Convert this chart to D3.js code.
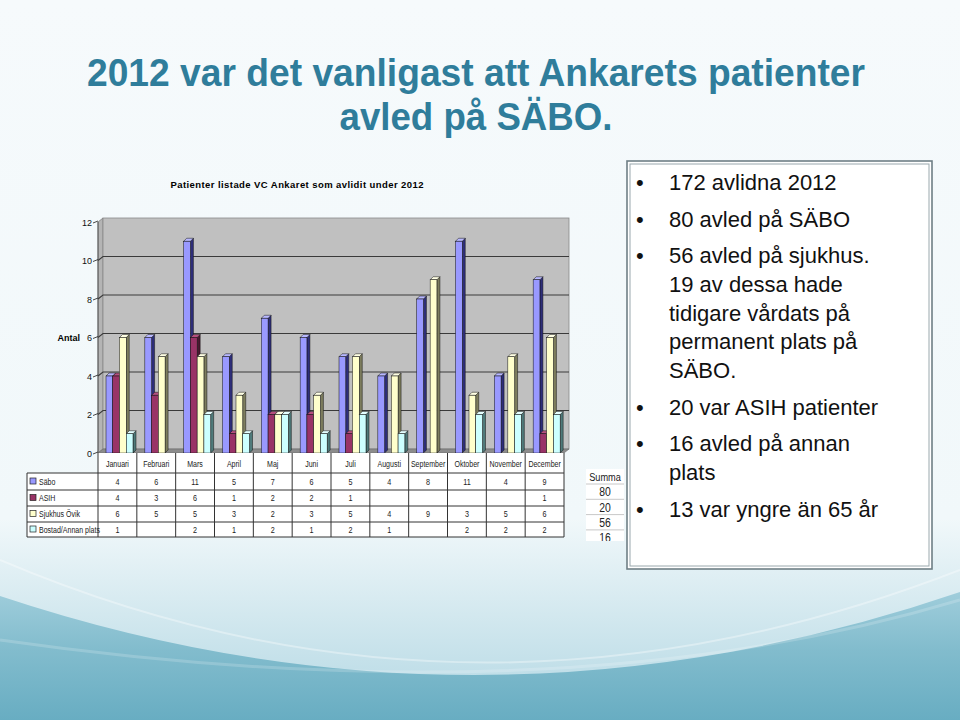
<!DOCTYPE html>
<html>
<head>
<meta charset="utf-8">
<script src="https://cdn.jsdelivr.net/npm/d3@7"></script>
<style>
  body { margin: 0; }
  svg { display: block; }
</style>
</head>
<body>
<div id="slide"></div>
<script>
// chart values
const months = ['Januari', 'Februari', 'Mars', 'April', 'Maj', 'Juni', 'Juli', 'Augusti', 'September', 'Oktober', 'November', 'December'];
const seriesNames = ['Säbo', 'ASIH', 'Sjukhus Övik', 'Bostad/Annan plats'];
const sabo = [4, 6, 11, 5, 7, 6, 5, 4, 8, 11, 4, 9];
const asih = [4, 3, 6, 1, 2, 2, 1, null, null, null, null, 1];
const sjukhus = [6, 5, 5, 3, 2, 3, 5, 4, 9, 3, 5, 6];
const bostad = [1, null, 2, 1, 2, 1, 2, 1, null, 2, 2, 2];
const yTicks = [0, 2, 4, 6, 8, 10, 12];
const titleLines = ['2012 var det vanligast att Ankarets patienter', 'avled på SÄBO.'];
const chartTitle = 'Patienter listade VC Ankaret som avlidit under 2012';
const bullets = [
  ['172 avlidna 2012'],
  ['80 avled på SÄBO'],
  ['56 avled på sjukhus.', '19 av dessa hade', 'tidigare vårdats på', 'permanent plats på', 'SÄBO.'],
  ['20 var ASIH patienter'],
  ['16 avled på annan', 'plats'],
  ['13 var yngre än 65 år'],
];

const seriesValues = [sabo, asih, sjukhus, bostad];
const colors = [
  { front: '#9999ff', side: '#2e2e7a', top: '#b8b8ff' },
  { front: '#993366', side: '#4a1830', top: '#b5507f' },
  { front: '#ffffcc', side: '#7d7d5e', top: '#ffffe4' },
  { front: '#ccffff', side: '#4f7a7a', top: '#e4ffff' },
];

const W = 960, H = 720;
const sans = '"Liberation Sans", Arial, sans-serif';

// the slide uses condensed type; squeeze regular glyphs sideways
function squeeze(sel, fx, fy, k) {
  return sel.attr('x', 0).attr('y', 0)
    .attr('transform', (d, i) => `translate(${fx(d, i)},${fy(d, i)}) scale(${k},1)`);
}

const svg = d3.select('#slide').append('svg').attr('width', W).attr('height', H);
const defs = svg.append('defs');

// slide background
const bg = defs.append('linearGradient').attr('id', 'bg').attr('x1', 0).attr('y1', 0).attr('x2', 0).attr('y2', 1);
bg.append('stop').attr('offset', '0%').attr('stop-color', '#f6fafc');
bg.append('stop').attr('offset', '72%').attr('stop-color', '#f1f8fa');
bg.append('stop').attr('offset', '100%').attr('stop-color', '#b2d7e3');
svg.append('rect').attr('width', W).attr('height', H).attr('fill', 'url(#bg)');

const sea = defs.append('linearGradient').attr('id', 'sea').attr('x1', 0).attr('y1', 0).attr('x2', 0).attr('y2', 1);
sea.append('stop').attr('offset', '0%').attr('stop-color', '#9fcddb');
sea.append('stop').attr('offset', '45%').attr('stop-color', '#82bccd');
sea.append('stop').attr('offset', '100%').attr('stop-color', '#68adc2');
svg.append('path')
  .attr('d', 'M0,596 Q480,756 960,592 L960,720 L0,720 Z')
  .attr('fill', 'url(#sea)');
svg.append('path')
  .attr('d', 'M0,560 Q470,760 960,570')
  .attr('fill', 'none').attr('stroke', '#ffffff').attr('stroke-opacity', 0.35).attr('stroke-width', 2);
svg.append('path')
  .attr('d', 'M0,640 Q560,720 960,600')
  .attr('fill', 'none').attr('stroke', '#ffffff').attr('stroke-opacity', 0.18).attr('stroke-width', 3);

// slide title
const titleLen = [778, 273];
svg.append('g').selectAll('text').data(titleLines).join('text')
  .attr('x', 476).attr('y', (d, i) => 86 + i * 44)
  .attr('text-anchor', 'middle')
  .attr('textLength', (d, i) => titleLen[i]).attr('lengthAdjust', 'spacingAndGlyphs')
  .style('font-family', sans).style('font-weight', 'bold').style('font-size', '38px')
  .attr('fill', '#2f7d9b')
  .text(d => d);

// chart
const depth = { dx: 5, dy: -4 };
const bar3d = 3;
const x = d3.scaleBand().domain(months).range([98, 564]);
const inner = d3.scaleBand().domain(seriesNames).range([8, 35]);
const y = d3.scaleLinear().domain([0, 12]).range([453, 222]);

const chart = svg.append('g');

chart.append('text')
  .attr('x', 297).attr('y', 188).attr('text-anchor', 'middle')
  .style('font-family', sans).style('font-weight', 'bold').style('font-size', '9.5px')
  .attr('textLength', 253).attr('lengthAdjust', 'spacing')
  .text(chartTitle);

const x0 = x.range()[0], x1 = x.range()[1];
const y0 = y(0), yTop = y(12);
// side wall, back wall, floor
chart.append('path')
  .attr('d', `M${x0},${yTop}L${x0 + depth.dx},${yTop + depth.dy}L${x0 + depth.dx},${y0 + depth.dy}L${x0},${y0}Z`)
  .attr('fill', '#b4b4b4').attr('stroke', '#808080').attr('stroke-width', 0.8);
chart.append('rect')
  .attr('x', x0 + depth.dx).attr('y', yTop + depth.dy)
  .attr('width', x1 - x0).attr('height', y0 - yTop)
  .attr('fill', '#c0c0c0').attr('stroke', '#8a8a8a').attr('stroke-width', 0.8);
chart.append('path')
  .attr('d', `M${x0},${y0}L${x0 + depth.dx},${y0 + depth.dy}L${x1 + depth.dx},${y0 + depth.dy}L${x1},${y0}Z`)
  .attr('fill', '#8c8c8c').attr('stroke', '#666').attr('stroke-width', 0.6);

// gridlines
chart.append('g').selectAll('path').data(yTicks.filter(t => t > 0 && t < 12)).join('path')
  .attr('d', t => `M${x0},${y(t)}L${x0 + depth.dx},${y(t) + depth.dy}L${x1 + depth.dx},${y(t) + depth.dy}`)
  .attr('fill', 'none').attr('stroke', '#3a3a3a').attr('stroke-width', 1.1);

// y axis
const yAxis = chart.append('g');
yAxis.append('line').attr('x1', x0).attr('x2', x0).attr('y1', yTop).attr('y2', y0)
  .attr('stroke', '#444').attr('stroke-width', 0.8);
yAxis.selectAll('line.tick').data(yTicks).join('line').attr('class', 'tick')
  .attr('x1', x0 - 5).attr('y1', t => y(t) + 1).attr('x2', x0).attr('y2', t => y(t) - 1)
  .attr('stroke', '#333').attr('stroke-width', 0.9);
yAxis.selectAll('text').data(yTicks).join('text')
  .attr('x', x0 - 6).attr('y', t => y(t) + 3.5).attr('text-anchor', 'end')
  .style('font-family', sans).style('font-size', '9px').attr('fill', '#111')
  .text(t => t);
chart.append('text')
  .attr('x', 80).attr('y', y(6) + 3.5).attr('text-anchor', 'end')
  .style('font-family', sans).style('font-weight', 'bold').style('font-size', '9px')
  .text('Antal');

// 3D columns, drawn left to right so each front covers the previous side
const bars = [];
months.forEach((m, mi) => {
  seriesNames.forEach((s, si) => {
    const v = seriesValues[si][mi];
    if (v) bars.push({ m, s, si, v });
  });
});
const bw = inner.bandwidth();
const barG = chart.append('g').selectAll('g').data(bars).join('g');
barG.append('path')
  .attr('d', d => {
    const bx = x(d.m) + inner(d.s) + bw, ty = y(d.v);
    return `M${bx},${ty}L${bx + bar3d},${ty - bar3d}L${bx + bar3d},${y0 - bar3d}L${bx},${y0}Z`;
  })
  .attr('fill', d => colors[d.si].side).attr('stroke', '#111').attr('stroke-width', 0.5);
barG.append('path')
  .attr('d', d => {
    const bx = x(d.m) + inner(d.s), ty = y(d.v);
    return `M${bx},${ty}L${bx + bar3d},${ty - bar3d}L${bx + bw + bar3d},${ty - bar3d}L${bx + bw},${ty}Z`;
  })
  .attr('fill', d => colors[d.si].top).attr('stroke', '#111').attr('stroke-width', 0.5);
barG.append('rect')
  .attr('x', d => x(d.m) + inner(d.s)).attr('y', d => y(d.v))
  .attr('width', bw).attr('height', d => y0 - y(d.v))
  .attr('fill', d => colors[d.si].front).attr('stroke', '#111').attr('stroke-width', 0.5);

// data table
const rowTop = 473, rowH = [17, 16, 16, 15];
const rowY = rowH.reduce((acc, h) => { acc.push(acc[acc.length - 1] + h); return acc; }, [rowTop]);
const labelX = 27;
const table = svg.append('g');
table.append('rect').attr('x', x0).attr('y', y0).attr('width', x1 - x0).attr('height', rowTop - y0).attr('fill', '#fff');
table.append('rect').attr('x', labelX).attr('y', rowTop).attr('width', x1 - labelX).attr('height', rowY[4] - rowTop).attr('fill', '#fff');

squeeze(table.selectAll('text.month').data(months).join('text').attr('class', 'month'),
  d => x(d) + x.bandwidth() / 2, () => 467, 0.8)
  .attr('text-anchor', 'middle')
  .style('font-family', sans).style('font-size', '8.8px').attr('fill', '#222')
  .text(d => d);

seriesNames.forEach((s, si) => {
  const cy = (rowY[si] + rowY[si + 1]) / 2;
  table.append('rect').attr('x', labelX + 3).attr('y', cy - 3.5).attr('width', 6).attr('height', 6)
    .attr('fill', colors[si].front).attr('stroke', '#222').attr('stroke-width', 0.7);
  squeeze(table.append('text'), () => labelX + 12, () => cy + 3.2, 0.8)
    .style('font-family', sans).style('font-size', '8.8px').attr('fill', '#222').text(s);
  squeeze(table.selectAll(null).data(months).join('text'),
    d => x(d) + x.bandwidth() / 2, () => cy + 3.2, 0.8)
    .attr('text-anchor', 'middle')
    .style('font-family', sans).style('font-size', '9px').attr('fill', '#222')
    .text((d, mi) => seriesValues[si][mi] == null ? '' : seriesValues[si][mi]);
});

// table grid
const grid = table.append('g').attr('stroke', '#333').attr('stroke-width', 1).attr('fill', 'none');
rowY.forEach(ry => grid.append('line').attr('x1', labelX).attr('x2', x1).attr('y1', ry).attr('y2', ry));
grid.append('line').attr('x1', labelX).attr('x2', labelX).attr('y1', rowTop).attr('y2', rowY[4]);
months.concat(['end']).forEach((m, i) => {
  const gx = i < months.length ? x(m) : x1;
  grid.append('line').attr('x1', gx).attr('x2', gx).attr('y1', y0).attr('y2', rowY[4]);
});

// sum column, cut off at the bottom as on the slide
defs.append('clipPath').attr('id', 'sumClip').append('rect').attr('x', 584).attr('y', 468).attr('width', 42).attr('height', 73);
const sumG = svg.append('g').attr('clip-path', 'url(#sumClip)');
sumG.append('rect').attr('x', 586).attr('y', 469).attr('width', 38).attr('height', 80).attr('fill', '#fff');
const sumRows = ['Summa'].concat(seriesValues.map(v => d3.sum(v)));
sumG.selectAll('line').data(sumRows).join('line')
  .attr('x1', 586).attr('x2', 624).attr('y1', (d, i) => 484 + i * 15.3).attr('y2', (d, i) => 484 + i * 15.3)
  .attr('stroke', '#c8c8c8').attr('stroke-width', 1);
squeeze(sumG.selectAll('text').data(sumRows).join('text'),
  () => 605, (d, i) => 481 + i * 15.3, 0.8)
  .attr('text-anchor', 'middle')
  .style('font-family', sans).style('font-size', (d, i) => i === 0 ? '11.5px' : '13px').attr('fill', '#222')
  .text(d => d);

// text box with bullets
const box = svg.append('g');
box.append('rect').attr('x', 627).attr('y', 161).attr('width', 305).attr('height', 408)
  .attr('fill', '#fff').attr('stroke', '#6f7f85').attr('stroke-width', 1.6);
box.append('rect').attr('x', 630).attr('y', 164).attr('width', 299).attr('height', 402)
  .attr('fill', 'none').attr('stroke', '#9aa8ad').attr('stroke-width', 1);

let by = 190;
bullets.forEach((lines, bi) => {
  if (bi > 0) by += 36.6;
  box.append('text').attr('x', 636).attr('y', by)
    .style('font-family', sans).style('font-size', '22px').attr('fill', '#111').text('•');
  lines.forEach((line, li) => {
    if (li > 0) by += 28.7;
    box.append('text').attr('x', 669).attr('y', by)
      .style('font-family', sans).style('font-size', '22px').attr('fill', '#111').text(line);
  });
});
</script>
</body>
</html>
